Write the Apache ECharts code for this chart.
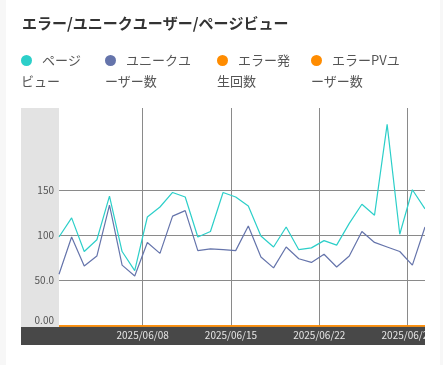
<!DOCTYPE html>
<html>
<head>
<meta charset="utf-8">
<script src="https://cdn.jsdelivr.net/npm/echarts@6/dist/echarts.min.js"></script>
<style>
html,body{margin:0;padding:0;background:#f7f7f7;width:443px;height:365px;overflow:hidden;}
#card{position:absolute;left:6px;top:0;width:434px;height:365px;background:#fff;}
#chart{position:absolute;left:21px;top:0;width:404px;height:365px;}
</style>
</head>
<body>
<div id="card"></div>
<div id="chart"></div>
<script>
const titleText = 'エラー/ユニークユーザー/ページビュー';
const dates = ['2025-06-01','2025-06-02','2025-06-03','2025-06-04','2025-06-05','2025-06-06','2025-06-07','2025-06-08','2025-06-09','2025-06-10',
  '2025-06-11','2025-06-12','2025-06-13','2025-06-14','2025-06-15','2025-06-16','2025-06-17','2025-06-18','2025-06-19','2025-06-20',
  '2025-06-21','2025-06-22','2025-06-23','2025-06-24','2025-06-25','2025-06-26','2025-06-27','2025-06-28','2025-06-29','2025-06-30'];
const pageViews = [98,119,82,95,143,82,61,120,131,147,142,98,104,147,142,132,99,87,109,84,86,94,89,113,134,122,222,101,150,129];
const uniqueUsers = [57,98,66,77,133,67,55,92,80,121,127,83,85,84,83,110,76,64,87,74,70,79,65,77,104,92,87,82,67,109];
const errorCounts = [0,0,0,0,0,0,0,0,0,0,0,0,0,0,0,0,0,0,0,0,0,0,0,0,0,0,0,0,0,0];
const errorPvUsers = [0,0,0,0,0,0,0,0,0,0,0,0,0,0,0,0,0,0,0,0,0,0,0,0,0,0,0,0,0,0];
const seriesNames = ['ページビュー','ユニークユーザー数','エラー発生回数','エラーPVユーザー数'];
const legendLines = [['ページ','ビュー'],['ユニークユ','ーザー数'],['エラー発','生回数'],['エラーPVユ','ーザー数']];
const xTickDates = ['2025-06-08','2025-06-15','2025-06-22','2025-06-29'];
const yTickValues = [0,50,100,150];
const yMax = 240;

const colors = ['#2ccfc9','#6574ab','#ff8c00','#ff8c00'];
const TZ = 9*3600*1000;
const FONT = "'Noto Sans CJK JP','Noto Sans',sans-serif";
const xs = dates.map(d => Date.parse(d));
const xTicks = xTickDates.map(d => Date.parse(d) - TZ);
const pad = n => (n < 10 ? '0' : '') + n;
const fmtDate = v => { const d = new Date(v + TZ); return d.getUTCFullYear() + '/' + pad(d.getUTCMonth()+1) + '/' + pad(d.getUTCDate()); };
const seriesData = [pageViews, uniqueUsers, errorCounts, errorPvUsers];
const legendLefts = [-5, 79, 191, 285];

const chart = echarts.init(document.getElementById('chart'), null, {renderer:'canvas'});
chart.setOption({
  animation: false,
  textStyle: {fontFamily: FONT},
  title: {text: titleText, left: 1, top: 16, padding: 0,
    textStyle: {fontSize: 15, fontWeight: 'bold', color: '#333', fontFamily: FONT}},
  legend: seriesNames.map((n, i) => ({
    data: [n], left: legendLefts[i], top: 50, padding: 0, icon: 'none', itemWidth: 0, itemHeight: 14,
    selectedMode: false,
    formatter: () => '{d|}{a|' + legendLines[i][0] + '}\n{b|' + legendLines[i][1] + '}',
    textStyle: {fontFamily: FONT, fontSize: 13, color: '#555', lineHeight: 21,
      rich: {
        d: {width: 11, height: 11, borderRadius: 6, backgroundColor: colors[i]},
        a: {fontFamily: FONT, fontSize: 13, color: '#555', lineHeight: 21, padding: [0,0,0,10]},
        b: {fontFamily: FONT, fontSize: 13, color: '#555', lineHeight: 21}
      }}
  })),
  graphic: [
    {type: 'rect', z: -10, left: 0, top: 108, shape: {width: 38, height: 219}, style: {fill: '#e3e3e3'}},
    {type: 'rect', z: -10, left: 0, top: 327, shape: {width: 404, height: 18}, style: {fill: '#484848'}}
  ],
  grid: {left: 38, right: 0, top: 108, bottom: 39, containLabel: false, outerBoundsMode: 'none'},
  xAxis: {
    type: 'value', min: xs[0], max: xs[xs.length-1],
    axisLine: {show: false},
    axisTick: {show: false, customValues: xTicks},
    axisLabel: {customValues: xTicks, formatter: v => fmtDate(v), color: '#e6e6e6', fontSize: 10, margin: 4, fontFamily: FONT},
    splitLine: {show: true, lineStyle: {color: '#8a8a8a', width: 1}}
  },
  yAxis: {
    type: 'value', min: 0, max: yMax,
    axisLine: {show: false},
    axisTick: {show: false, customValues: yTickValues},
    axisLabel: {customValues: yTickValues, color: '#555', fontSize: 10, margin: 5, fontFamily: FONT,
      formatter: v => v === 0 ? '{z|' + v.toFixed(2) + '}' : Number(v).toPrecision(3),
      rich: {z: {fontSize: 10, color: '#555', fontFamily: FONT, padding: [0,0,12,0]}}},
    splitLine: {show: true, lineStyle: {color: '#8a8a8a', width: 1}}
  },
  series: seriesData.map((arr, i) => ({
    name: seriesNames[i], type: 'line', showSymbol: false, symbol: 'none',
    data: arr.map((v, j) => [xs[j], v]),
    lineStyle: {color: colors[i], width: i >= 2 ? 1.6 : 1.2},
    itemStyle: {color: colors[i]},
    z: 2 + i
  }))
});
</script>
</body>
</html>
